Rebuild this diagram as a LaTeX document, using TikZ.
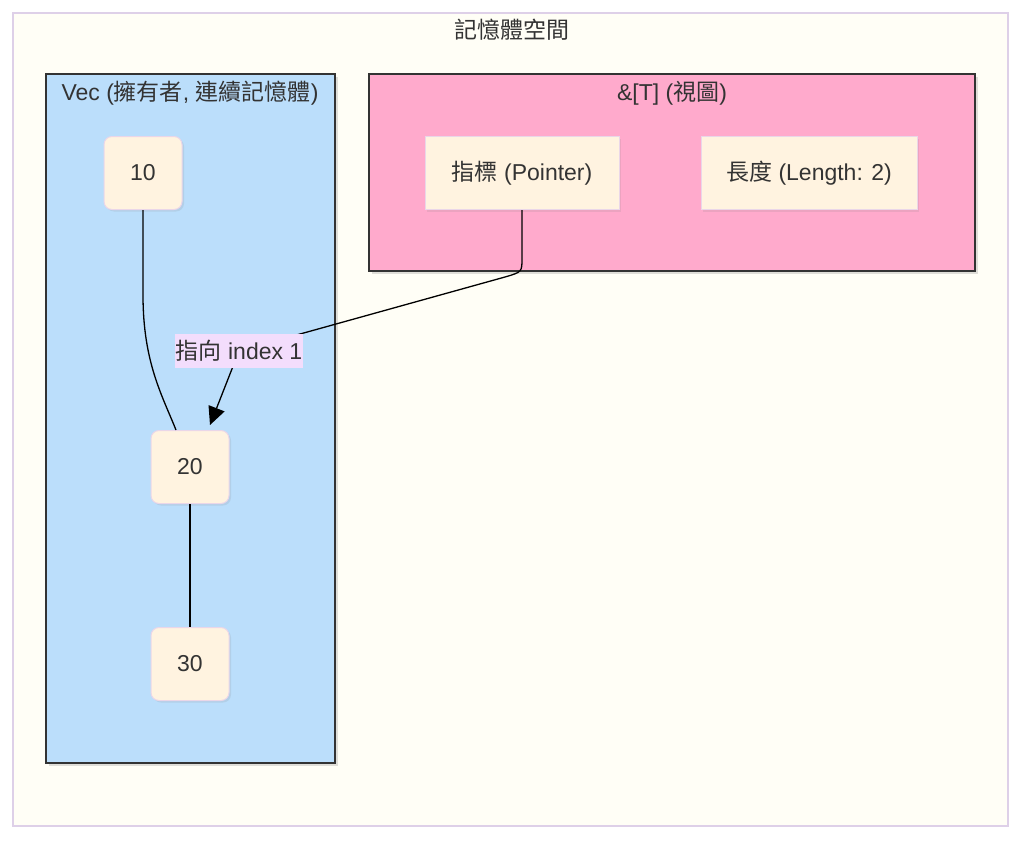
\documentclass[tikz,border=0pt]{standalone}
\usepackage{fontspec}
\setmainfont{Liberation Sans}
\newfontfamily\cjk{Noto Sans CJK TC}
\usetikzlibrary{arrows.meta,shadows,calc}

\definecolor{spacefill}{RGB}{255,254,246}
\definecolor{spaceline}{RGB}{222,208,232}
\definecolor{vecfill}{RGB}{187,222,251}
\definecolor{viewfill}{RGB}{255,170,204}
\definecolor{boxline}{RGB}{51,51,51}
\definecolor{cellfill}{RGB}{255,243,224}
\definecolor{cellline}{RGB}{234,214,232}
\definecolor{lblfill}{RGB}{243,221,252}
\definecolor{txt}{RGB}{51,51,51}

\tikzset{
	group/.style={draw=boxline, line width=2.5pt, drop shadow={opacity=0.25, shadow xshift=3pt, shadow yshift=-3pt}},
	cell/.style={draw=cellline, fill=cellfill, line width=1pt, rounded corners=8pt, minimum width=78pt, minimum height=73pt, inner sep=0pt, drop shadow={opacity=0.15, shadow xshift=2pt, shadow yshift=-2pt}},
	field/.style={draw=cellline, fill=cellfill, line width=1pt, minimum height=73pt, inner sep=0pt, drop shadow={opacity=0.15, shadow xshift=2pt, shadow yshift=-2pt}},
	link/.style={draw=black, line width=1.3pt},
	edgelabel/.style={fill=lblfill, inner xsep=1pt, minimum height=34pt}
}

\begin{document}
\begin{tikzpicture}[x=1pt, y=-1pt, font=\fontsize{23}{27}\selectfont, text=txt]
	\useasboundingbox (0,0) rectangle (1024,840);

	% memory space
	\draw[draw=spaceline, fill=spacefill, line width=1.5pt] (13,13) rectangle (1008,826);
	\node (spacetitle) at (512,30) {\cjk 記憶體空間};

	% groups
	\draw[group, fill=vecfill] (46,74) rectangle (335,763);
	\node (vectitle) at (190,93) {Vec ({\cjk 擁有者}, {\cjk 連續記憶體})};
	\draw[group, fill=viewfill] (369,74) rectangle (975,271);
	\node (viewtitle) at (672,93) {\&[T] ({\cjk 視圖})};

	% vec elements
	\foreach \name/\x/\y/\val in {n10/143/173/10, n20/190/467/20, n30/190/664/30}
		\node[cell] (\name) at (\x,\y) {\val};

	% slice fields
	\node[field, minimum width=194pt] (ptr) at (522,173) {{\cjk 指標} (Pointer)};
	\node[field, minimum width=216pt] (len) at (809,173) {{\cjk 長度} (Length: 2)};

	% connectors
	\draw[link] (n10.south) -- (143,295) .. controls (143,362) and (162,395) .. ($(n20.north)+(-14,0)$);
	\draw[link] (n20.south) -- (n30.north);

	\coordinate (tip) at (210,425);
	\node[edgelabel] (lbl) at (239,351) {\phantom{{\cjk 指向} index 1}};
	\draw[link, -{Triangle[length=18pt, width=17pt]}] (ptr.south) -- (522,258) .. controls (522,272) .. (505,277) -- (lbl.center) -- (tip);
	\node[edgelabel] at (lbl) {{\cjk 指向} index 1};
\end{tikzpicture}
\end{document}
